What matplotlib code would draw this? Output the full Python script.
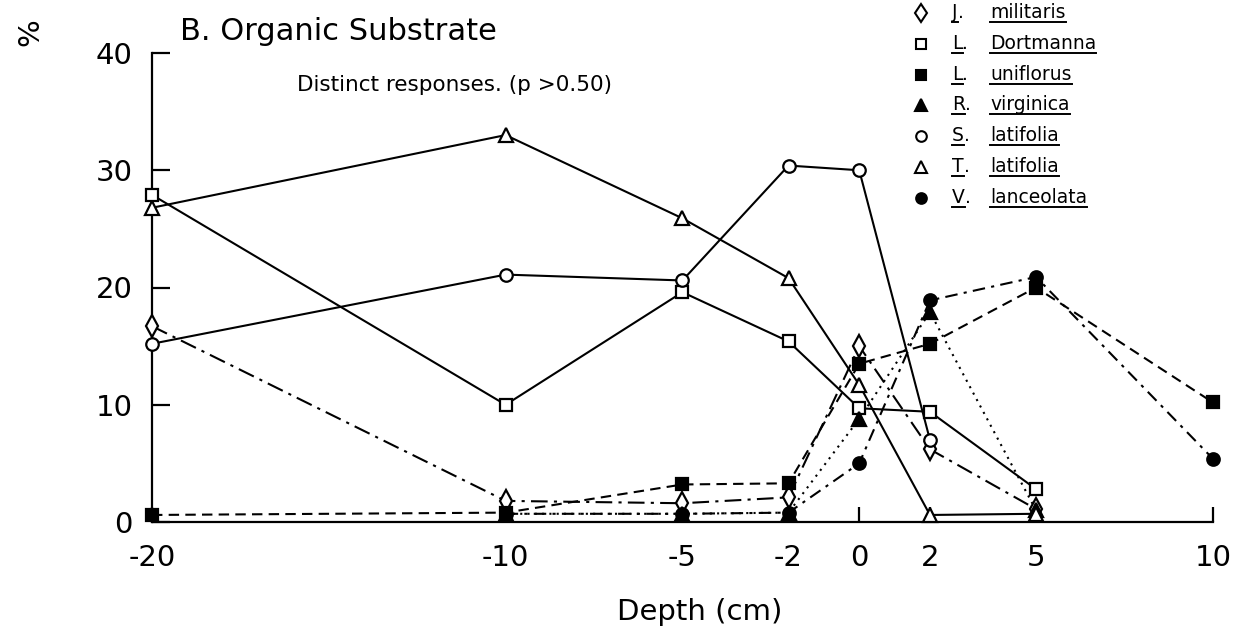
import numpy as np
import matplotlib
matplotlib.use("Agg")
import matplotlib.pyplot as plt
from matplotlib.lines import Line2D

# ---------------- data ----------------
depth = [-20, -10, -5, -2, 0, 2, 5, 10]
depth_labels = ["-20", "-10", "-5", "-2", "0", "2", "5", "10"]
nan = np.nan
j_militaris  = [16.7, 1.8, 1.6, 2.1, 15.0, 6.2, 1.1, nan]
l_dortmanna  = [27.9, 10.0, 19.6, 15.4, 9.7, 9.4, 2.8, nan]
l_uniflorus  = [0.6, 0.8, 3.2, 3.3, 13.5, 15.2, 20.0, 10.2]
r_virginica  = [nan, 0.7, 0.7, 0.8, 8.8, 17.9, 1.0, nan]
s_latifolia  = [15.2, 21.1, 20.6, 30.4, 30.0, 7.0, nan, nan]
t_latifolia  = [26.8, 33.0, 25.9, 20.8, 11.7, 0.6, 0.7, nan]
v_lanceolata = [nan, 0.7, 0.7, 0.8, 5.0, 18.9, 20.9, 5.4]

genus = ["J", "L", "L", "R", "S", "T", "V"]
species = ["militaris", "Dortmanna", "uniflorus", "virginica",
           "latifolia", "latifolia", "lanceolata"]
y_ticks = [0, 10, 20, 30, 40]

series = [j_militaris, l_dortmanna, l_uniflorus, r_virginica,
          s_latifolia, t_latifolia, v_lanceolata]

# ---------------- styles ----------------
styles = [
    dict(marker="d", mfc="white", ls=(0, (8, 3, 1.5, 3)), ms=11),
    dict(marker="s", mfc="white", ls="-", ms=8.5),
    dict(marker="s", mfc="black", ls=(0, (5, 3)), ms=8),
    dict(marker="^", mfc="black", ls=(0, (1, 2.5)), ms=10),
    dict(marker="o", mfc="white", ls="-", ms=9),
    dict(marker="^", mfc="white", ls="-", ms=10),
    dict(marker="o", mfc="black", ls=(0, (6, 3, 1.5, 3)), ms=9),
]

plt.rcParams["font.family"] = ["DejaVu Sans"]

W, H = 1234, 635
fig = plt.figure(figsize=(W / 100, H / 100), dpi=100)
left_px, right_px, top_px, bottom_px = 152, 1227, 53, 522
ax = fig.add_axes([left_px / W, 1 - bottom_px / H,
                   (right_px - left_px) / W, (bottom_px - top_px) / H])

x = np.array(depth, dtype=float)
for vals, st in zip(series, styles):
    ax.plot(x, vals, color="black", lw=1.5, ls=st["ls"], zorder=2,
            clip_on=False)
for vals, st in zip(series, styles):
    ax.plot(x, vals, ls="none", marker=st["marker"], ms=st["ms"],
            mfc=st["mfc"], mec="black", mew=1.6, zorder=3, clip_on=False)

ax.set_xlim(-20, 10.4)
ax.set_ylim(0, 40)
for s in ("top", "right"):
    ax.spines[s].set_visible(False)
ax.spines["left"].set_bounds(0, 40)
ax.spines["bottom"].set_bounds(-20, 10)
ax.spines["left"].set_linewidth(1.6)
ax.spines["bottom"].set_linewidth(1.6)

ax.set_yticks(y_ticks)
ax.set_yticklabels([str(v) for v in y_ticks])
ax.set_xticks(x)
ax.set_xticklabels(depth_labels)
ax.tick_params(axis="y", direction="in", length=13, width=1.6,
               labelsize=21, pad=14)
ax.tick_params(axis="x", direction="in", length=11, width=1.6,
               labelsize=21, pad=16)

# texts
fig.text(180 / W, 1 - 32 / H, "B. Organic Substrate", fontsize=22,
         ha="left", va="center")
fig.text(297 / W, 1 - 85 / H, "Distinct responses. (p >0.50)", fontsize=15.5,
         ha="left", va="center")
fig.text(30 / W, 1 - 32 / H, "%", fontsize=21, rotation=90,
         ha="center", va="center")
fig.text(700 / W, 1 - 612 / H, "Depth (cm)", fontsize=21,
         ha="center", va="center")

# legend (manual, with underlined names)
row0, dy = 13, 30.8
texts = []
for i, st in enumerate(styles):
    yc = row0 + i * dy
    fig.add_artist(Line2D([921 / W], [1 - yc / H], transform=fig.transFigure,
                          ls="none", marker=st["marker"], ms=st["ms"] * 0.85,
                          mfc=st["mfc"], mec="black", mew=1.5))
    yb = 1 - (yc + 5) / H
    tg = fig.text(952 / W, yb, genus[i], fontsize=13.5, va="baseline", ha="left")
    ts = fig.text(990 / W, yb, species[i], fontsize=13.5, va="baseline", ha="left")
    texts.append((tg, ts, yb))

fig.canvas.draw()
r = fig.canvas.get_renderer()
for tg, ts, yb in texts:
    bg = tg.get_window_extent(r)
    fig.text(bg.x1 / W, yb, ".", fontsize=13.5, va="baseline", ha="left")
    uy = yb - 4 / H
    for t in (tg, ts):
        bb = t.get_window_extent(r)
        fig.add_artist(Line2D([bb.x0 / W, bb.x1 / W], [uy, uy],
                              transform=fig.transFigure, color="black", lw=1.4))

fig.savefig("out.png", dpi=100)
